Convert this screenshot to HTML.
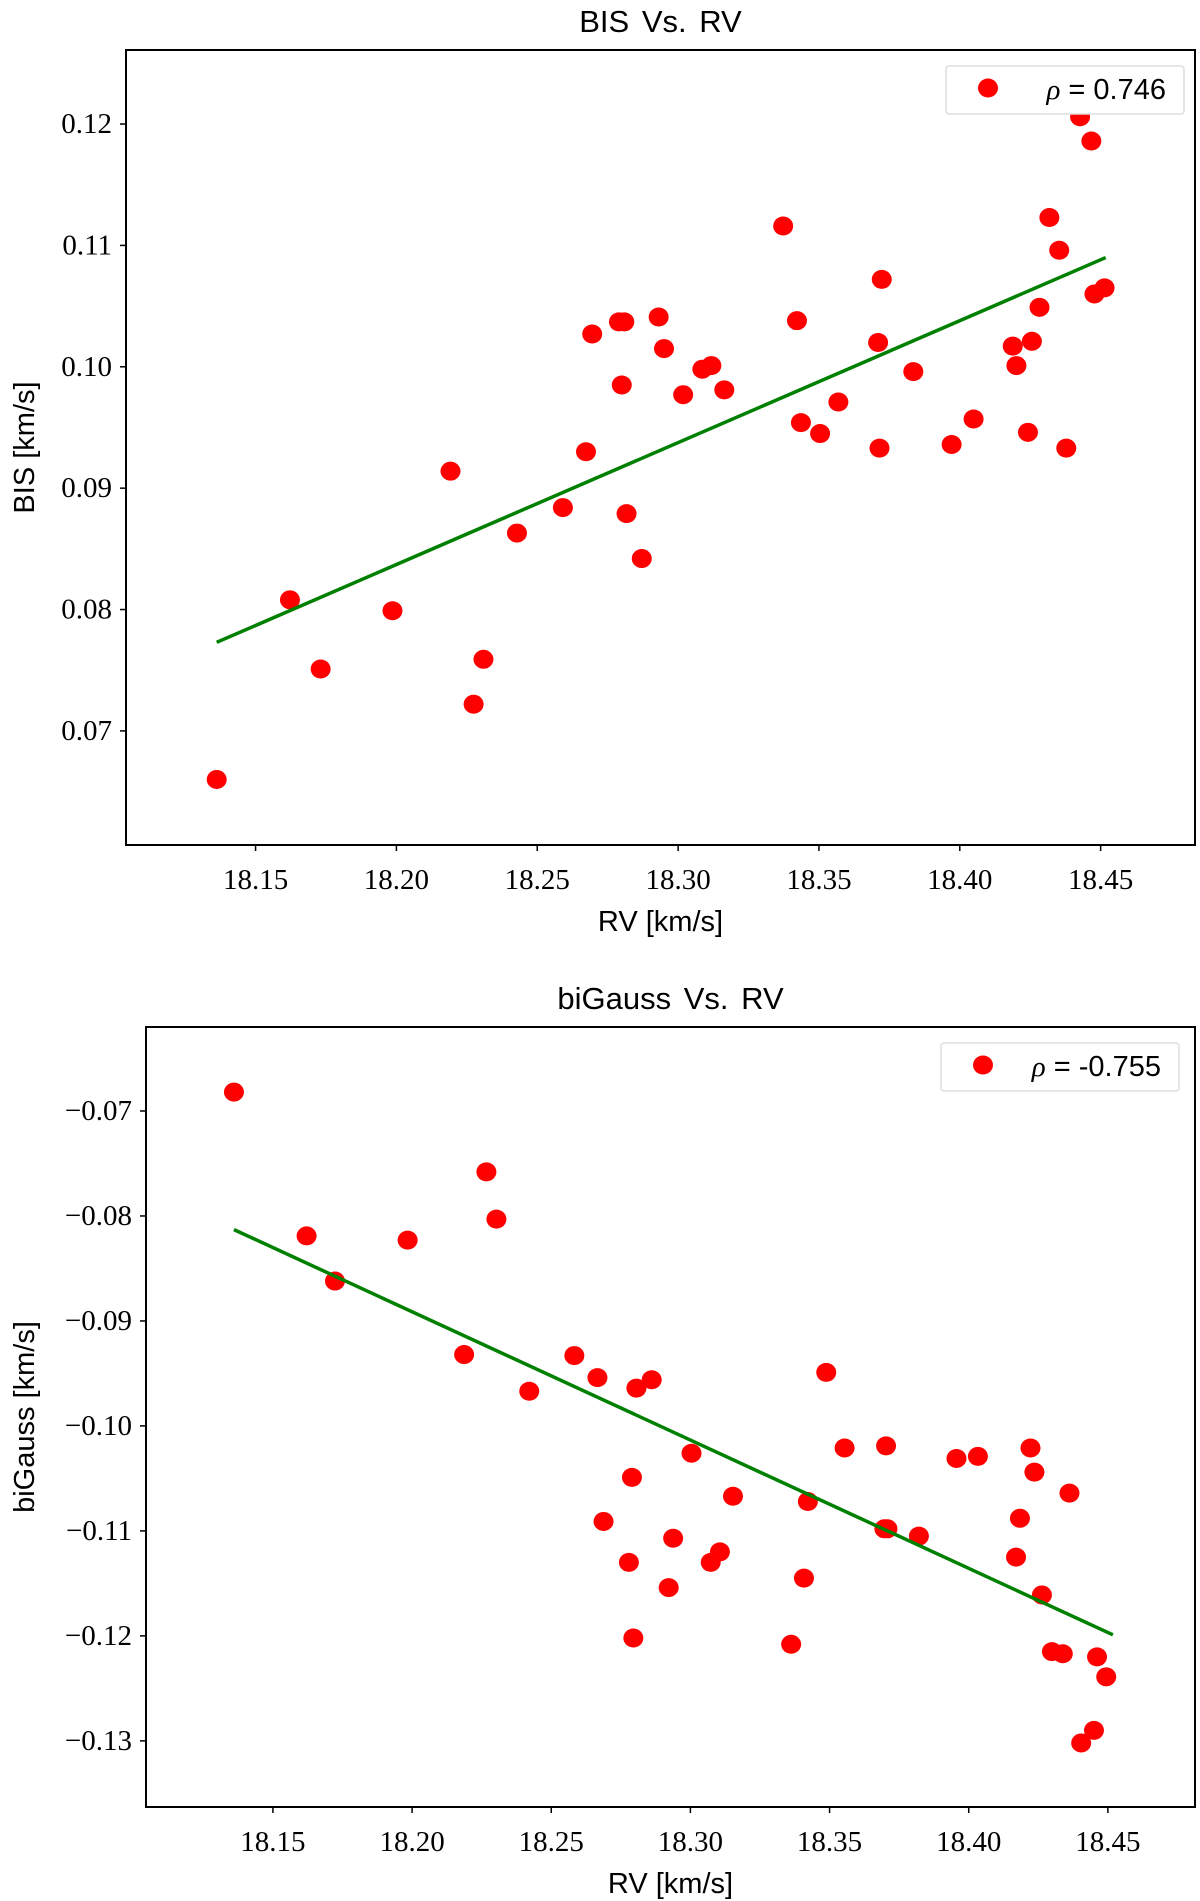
<!DOCTYPE html>
<html><head><meta charset="utf-8"><style>
html,body{margin:0;padding:0;background:#fff;}
svg{display:block;}
.tick{font-family:"Liberation Serif",serif;font-size:29px;fill:#000;}
.lab{font-family:"Liberation Sans",sans-serif;font-size:29px;fill:#000;}
.ttl{font-family:"Liberation Sans",sans-serif;font-size:31px;fill:#000;}
</style></head><body>
<svg id="fig" width="1200" height="1901" viewBox="0 0 1200 1901" xmlns="http://www.w3.org/2000/svg"></svg>
<script>
const rv1 = [18.1362,18.1622,18.1731,18.1986,18.2192,18.2274,18.2309,18.2428,18.2591,18.2673,18.2695,18.2790,18.2809,18.2800,18.2817,18.2871,18.2931,18.2950,18.3018,18.3086,18.3118,18.3164,18.3373,18.3422,18.3436,18.3504,18.3569,18.3710,18.3715,18.3723,18.3835,18.3971,18.4049,18.4188,18.4201,18.4242,18.4256,18.4283,18.4318,18.4353,18.4378,18.4427,18.4467,18.4478,18.4514];
const bis = [0.0660,0.0808,0.0751,0.0799,0.0914,0.0722,0.0759,0.0863,0.0884,0.0930,0.1027,0.1037,0.1037,0.0985,0.0879,0.0842,0.1041,0.1015,0.0977,0.0998,0.1001,0.0981,0.1116,0.1038,0.0954,0.0945,0.0971,0.1020,0.0933,0.1072,0.0996,0.0936,0.0957,0.1017,0.1001,0.0946,0.1021,0.1049,0.1123,0.1096,0.0933,0.1206,0.1186,0.1060,0.1065];
const bisFitX = [18.1362,18.4518];
const bisFitY = [0.0773,0.1090];
const rv2 = [18.1360,18.1621,18.1723,18.1984,18.2187,18.2267,18.2303,18.2421,18.2583,18.2666,18.2688,18.2779,18.2790,18.2795,18.2806,18.2861,18.2922,18.2938,18.3004,18.3073,18.3106,18.3153,18.3362,18.3408,18.3422,18.3488,18.3554,18.3697,18.3703,18.3708,18.3821,18.3956,18.4033,18.4170,18.4184,18.4222,18.4236,18.4263,18.4299,18.4338,18.4362,18.4404,18.4450,18.4461,18.4494];
const bigauss = [-0.0682,-0.0819,-0.0862,-0.0823,-0.0932,-0.0758,-0.0803,-0.0967,-0.0933,-0.0954,-0.1091,-0.1130,-0.1049,-0.1202,-0.0964,-0.0956,-0.1154,-0.1107,-0.1026,-0.1130,-0.1120,-0.1067,-0.1208,-0.1145,-0.1072,-0.0949,-0.1021,-0.1098,-0.1019,-0.1098,-0.1105,-0.1031,-0.1029,-0.1125,-0.1088,-0.1021,-0.1044,-0.1161,-0.1215,-0.1217,-0.1064,-0.1302,-0.1290,-0.1220,-0.1239];
const bgFitX = [18.1360,18.4518];
const bgFitY = [-0.0813,-0.1199];
const xTicks = [18.15,18.20,18.25,18.30,18.35,18.40,18.45];
const yTicks1 = [0.07,0.08,0.09,0.10,0.11,0.12];
const yTicks2 = [-0.13,-0.12,-0.11,-0.10,-0.09,-0.08,-0.07];

const NS="http://www.w3.org/2000/svg";
const svg=document.getElementById('fig');
function mk(tag,attrs,parent){const e=document.createElementNS(NS,tag);for(const k in attrs)e.setAttribute(k,attrs[k]);(parent||svg).appendChild(e);return e;}

function chart(o){
  const g=mk('g',{});
  
  
  const sx=v=>o.L+(v-o.xmin)/(o.xmax-o.xmin)*(o.R-o.L);
  const sy=v=>o.B-(v-o.ymin)/(o.ymax-o.ymin)*(o.B-o.T);
  const t=mk('text',{x:(o.L+o.R)/2,y:o.titleY,'text-anchor':'middle',class:'ttl','word-spacing':'4'},g);t.textContent=o.title;
  
  
  xTicks.forEach(v=>{
    const x=sx(v);
    mk('line',{x1:x,x2:x,y1:o.B,y2:o.B+6,stroke:'#000','stroke-width':1.5},g);
    const tx=mk('text',{x:x,y:o.B+44,'text-anchor':'middle',class:'tick'},g);tx.textContent=v.toFixed(2);
    
    
  });
  o.yTicks.forEach(v=>{
    const y=sy(v);
    mk('line',{x1:o.L-6,x2:o.L,y1:y,y2:y,stroke:'#000','stroke-width':1.5},g);
    const ty=mk('text',{x:o.L-14,y:y+9,'text-anchor':'end',class:'tick'},g);
    ty.textContent=(v<0?'\u2212':'')+Math.abs(v).toFixed(2);
    
    
  });
  const xl=mk('text',{x:(o.L+o.R)/2,y:o.B+86,'text-anchor':'middle',class:'lab'},g);xl.textContent='RV [km/s]';
  
  
  const yl=mk('text',{x:0,y:0,'text-anchor':'middle',class:'lab',transform:`translate(34,${(o.T+o.B)/2}) rotate(-90)`},g);yl.textContent=o.ylabel;
  
  
  o.xs.forEach((v,i)=>{
    const c=mk('ellipse',{cx:sx(v),cy:sy(o.ys[i]),rx:10,ry:9.5,fill:'#ff0000'},g);
    
    
  });
  const ln=mk('line',{x1:sx(o.fx[0]),y1:sy(o.fy[0]),x2:sx(o.fx[1]),y2:sy(o.fy[1]),stroke:'#008000','stroke-width':3.5},g);
  
  
  mk('rect',{x:o.L,y:o.T,width:o.R-o.L,height:o.B-o.T,fill:'none',stroke:'#000','stroke-width':2},g);
  const lg=mk('g',{},g);
  
  
  mk('rect',{x:o.lx,y:o.ly,width:238,height:48,rx:3,fill:'#fff',stroke:'#ddd','stroke-width':1.5},lg);
  mk('ellipse',{cx:o.lx+42,cy:o.ly+22,rx:10,ry:9.5,fill:'#ff0000'},lg);
  const lt=mk('text',{x:o.lx+220,y:o.ly+33,'text-anchor':'end',class:'lab'},lg);
  lt.innerHTML='<tspan font-family="Liberation Serif" font-style="italic">ρ</tspan> = '+o.rho;
  
  
}
chart({name:'bis-vs-rv-chart',title:'BIS Vs.  RV',ylabel:'BIS [km/s]',L:126,R:1195,T:50,B:845,xmin:18.104,xmax:18.4835,ymin:0.0606,ymax:0.1261,titleY:32,xs:rv1,ys:bis,fx:bisFitX,fy:bisFitY,yTicks:yTicks1,lx:946,ly:66,rho:'0.746'});
chart({name:'bigauss-vs-rv-chart',title:'biGauss Vs.  RV',ylabel:'biGauss [km/s]',L:146,R:1195,T:1027,B:1807,xmin:18.1044,xmax:18.4813,ymin:-0.1363,ymax:-0.062,titleY:1009,xs:rv2,ys:bigauss,fx:bgFitX,fy:bgFitY,yTicks:yTicks2,lx:941,ly:1043,rho:'-0.755'});
</script>
</body></html>
